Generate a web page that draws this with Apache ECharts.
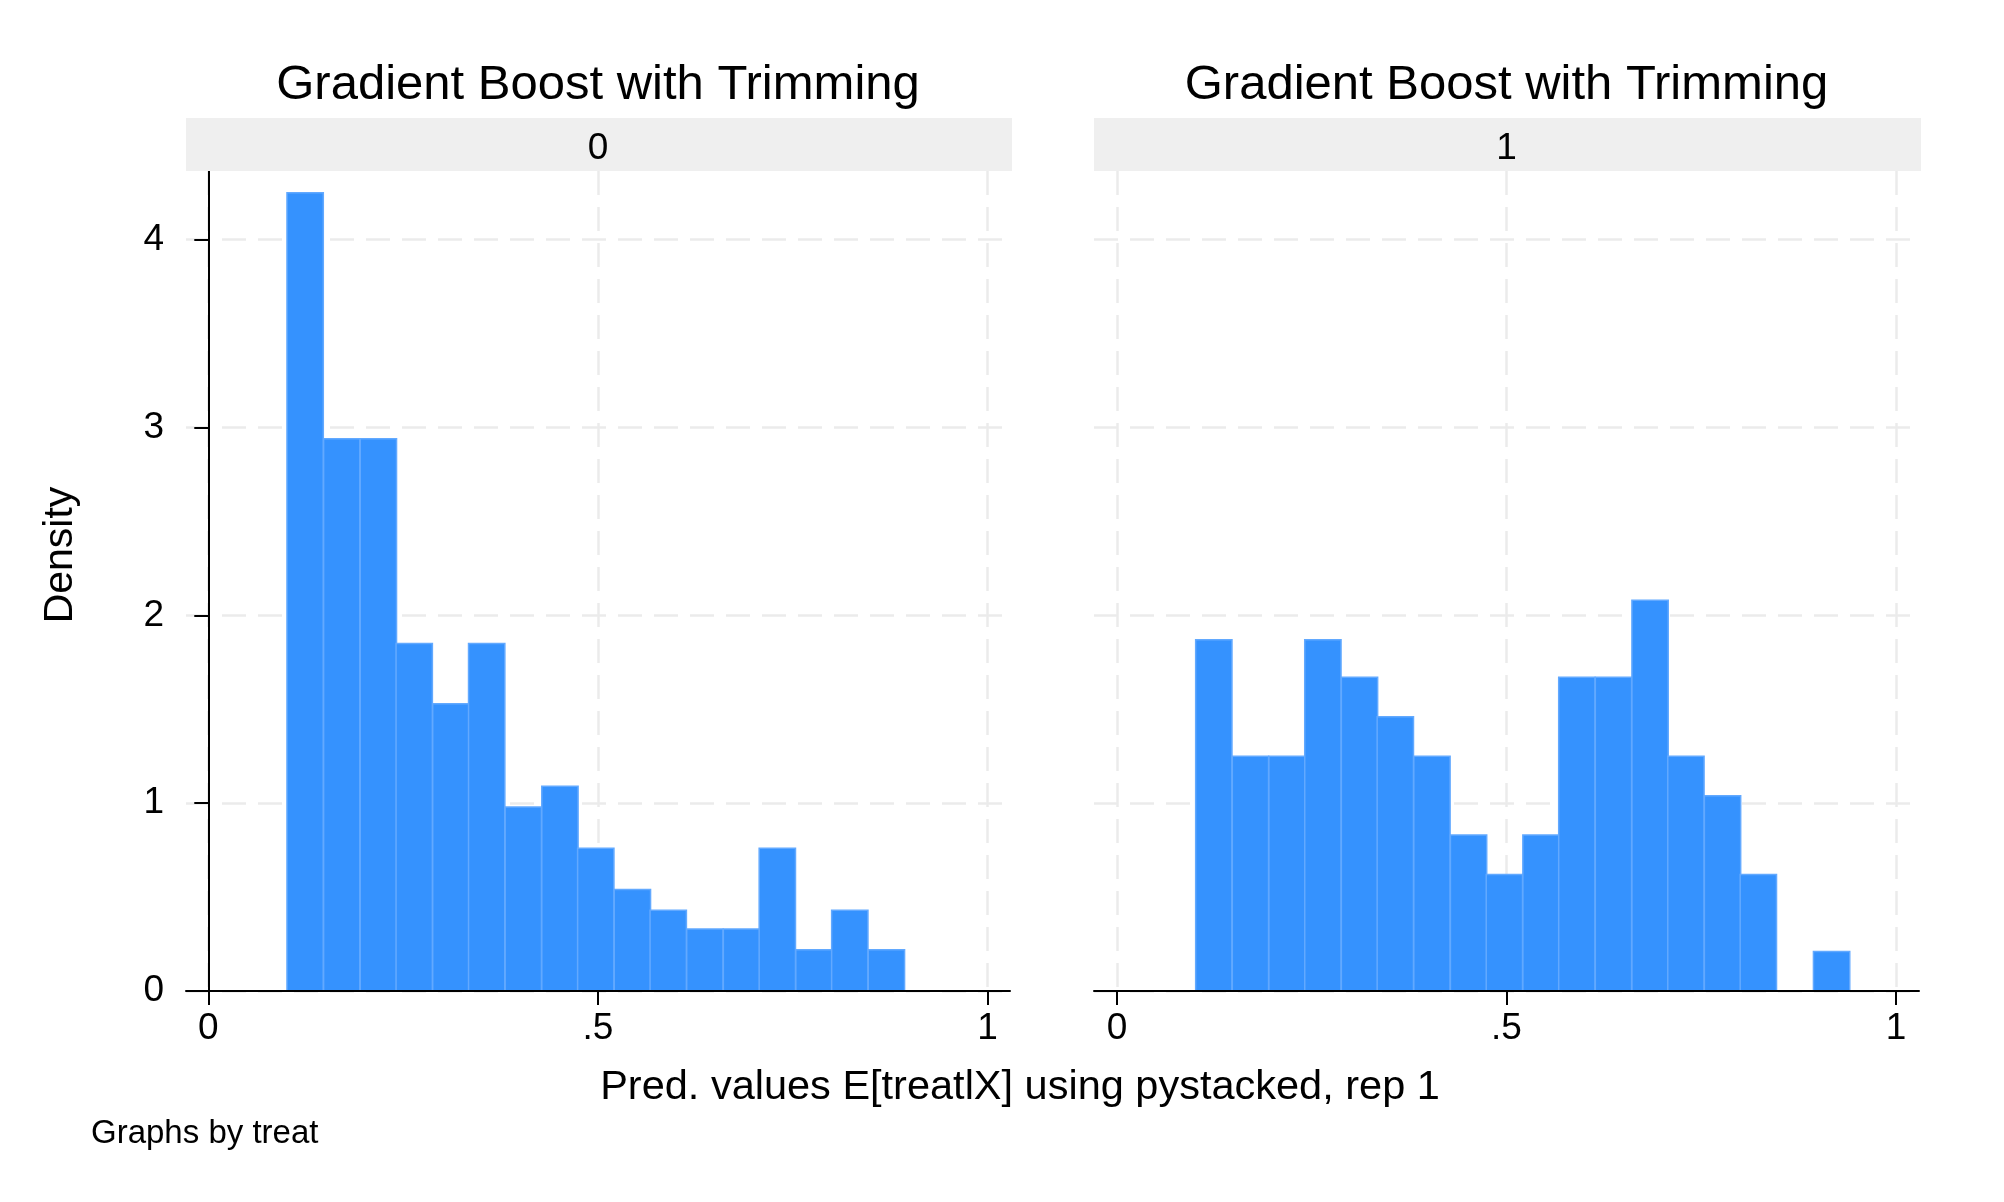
<!DOCTYPE html>
<html>
<head>
<meta charset="utf-8">
<script src="https://cdn.jsdelivr.net/npm/echarts@6/dist/echarts.min.js"></script>
<style>
html,body{margin:0;padding:0;background:#ffffff;}
#chart{width:2004px;height:1202px;}
</style>
</head>
<body>
<div id="chart"></div>
<script>
// ---------- data ----------
const panelTitles = ['Gradient Boost with Trimming', 'Gradient Boost with Trimming'];
const panelLabels = ['0', '1'];
const xTicks = [0, 0.5, 1];
const xTickLabels = ['0', '.5', '1'];
const yTicks = [0, 1, 2, 3, 4];
const yTickLabels = ['0', '1', '2', '3', '4'];
const binWidth = 0.0466;
const binLeft0 = [0.101, 0.148, 0.195, 0.241, 0.288, 0.334, 0.381, 0.428, 0.474, 0.521, 0.567, 0.614, 0.661, 0.707, 0.754, 0.800, 0.847];
const density0 = [4.25, 2.94, 2.94, 1.85, 1.53, 1.85, 0.98, 1.09, 0.76, 0.54, 0.43, 0.33, 0.33, 0.76, 0.22, 0.43, 0.22];
const binLeft1 = [0.101, 0.148, 0.195, 0.241, 0.288, 0.334, 0.381, 0.428, 0.474, 0.521, 0.567, 0.614, 0.661, 0.707, 0.754, 0.800, 0.847, 0.894];
const density1 = [1.87, 1.25, 1.25, 1.87, 1.67, 1.46, 1.25, 0.83, 0.62, 0.83, 1.67, 1.67, 2.08, 1.25, 1.04, 0.62, 0, 0.21];
const xTitle = 'Pred. values E[treatlX] using pystacked, rep 1';
const yTitle = 'Density';
const note = 'Graphs by treat';

// ---------- layout / style ----------
const FONT = "'Liberation Sans', Arial, Helvetica, sans-serif";
const TICK_FS = 37;
const grids = [
  {left: 186, top: 171, width: 824, height: 820},
  {left: 1094, top: 171, width: 825, height: 820}
];
const xExtents = [[-0.0286, 1.0289], [-0.0295, 1.0295]];
const yMax = 4.366;
const gridLineStyle = {color: '#ebebeb', width: 2.5, type: [24, 12]};
const barFill = '#3592fe';
const barStroke = '#62a9ff';

function xAxisMain(i) {
  return {
    type: 'value', gridIndex: i, min: xExtents[i][0], max: xExtents[i][1], z: 5,
    axisLine: {show: true, onZero: false, lineStyle: {color: '#000', width: 2}},
    axisTick: {show: true, length: 14, lineStyle: {color: '#000', width: 2}, customValues: xTicks},
    axisLabel: {show: true, margin: 19, fontSize: TICK_FS, fontFamily: FONT, color: '#000',
      customValues: xTicks,
      formatter: v => { const k = xTicks.indexOf(v); return k >= 0 ? xTickLabels[k] : ''; }},
    splitLine: {show: false}
  };
}
function xAxisGrid(i) {
  return {
    type: 'value', gridIndex: i, min: xExtents[i][0], max: xExtents[i][1], z: 0,
    axisLine: {show: false}, axisTick: {show: false, customValues: xTicks},
    axisLabel: {show: false, customValues: xTicks},
    splitLine: {show: true, lineStyle: gridLineStyle}
  };
}
function yAxis(i) {
  const left = i === 0;
  return {
    type: 'value', gridIndex: i, min: 0, max: yMax, z: 0,
    axisLine: {show: left, lineStyle: {color: '#000', width: 2}},
    axisTick: {show: left, length: 14, lineStyle: {color: '#000', width: 2}, customValues: yTicks},
    axisLabel: {show: left, margin: 22, fontSize: TICK_FS, fontFamily: FONT, color: '#000',
      padding: [6, 0, 0, 0], customValues: yTicks,
      formatter: v => { const k = yTicks.indexOf(v); return k >= 0 ? yTickLabels[k] : ''; }},
    splitLine: {show: true, lineStyle: gridLineStyle}
  };
}

function renderBar(params, api) {
  const x0 = api.value(0);
  const h = api.value(1);
  if (!(h > 0)) return null;
  const pTop = api.coord([x0, h]);
  const pBot = api.coord([x0 + binWidth, 0]);
  return {
    type: 'rect',
    shape: {x: pTop[0], y: pTop[1], width: pBot[0] - pTop[0], height: pBot[1] - pTop[1]},
    style: {fill: barFill, stroke: barStroke, lineWidth: 1.5}
  };
}

const seriesData = [
  binLeft0.map((x, k) => [x, density0[k]]),
  binLeft1.map((x, k) => [x, density1[k]])
];

const graphics = [];
[0, 1].forEach(i => {
  const g = grids[i];
  const cx = g.left + g.width / 2;
  graphics.push({type: 'rect', z: 100, shape: {x: g.left, y: 118, width: g.width + 2, height: 53},
    style: {fill: '#efefef'}});
  graphics.push({type: 'text', z: 101, style: {text: panelLabels[i], x: cx, y: 149, align: 'center',
    verticalAlign: 'middle', fontSize: TICK_FS, fontFamily: FONT, fill: '#000'}});
  graphics.push({type: 'text', z: 101, style: {text: panelTitles[i], x: cx, y: 85.5, align: 'center',
    verticalAlign: 'middle', fontSize: 49, fontFamily: FONT, fill: '#000'}});
});
graphics.push({type: 'text', z: 101, style: {text: xTitle, x: 1020, y: 1088, align: 'center',
  verticalAlign: 'middle', fontSize: 41.5, fontFamily: FONT, fill: '#000'}});
graphics.push({type: 'text', z: 101, x: 61, y: 555, rotation: Math.PI / 2,
  style: {text: yTitle, x: 0, y: 0, align: 'center', verticalAlign: 'middle', fontSize: 41,
    fontFamily: FONT, fill: '#000'}});
graphics.push({type: 'text', z: 101, style: {text: note, x: 91, y: 1134, align: 'left',
  verticalAlign: 'middle', fontSize: 33, fontFamily: FONT, fill: '#000'}});

const chart = echarts.init(document.getElementById('chart'), null, {renderer: 'canvas'});
chart.setOption({
  backgroundColor: '#ffffff',
  animation: false,
  grid: grids,
  xAxis: [xAxisMain(0), xAxisMain(1), xAxisGrid(0), xAxisGrid(1)],
  yAxis: [yAxis(0), yAxis(1)],
  series: [0, 1].map(i => ({
    type: 'custom', xAxisIndex: i, yAxisIndex: i, z: 2,
    renderItem: renderBar, encode: {x: 0, y: 1},
    data: seriesData[i]
  })),
  graphic: graphics
});
</script>
</body>
</html>
